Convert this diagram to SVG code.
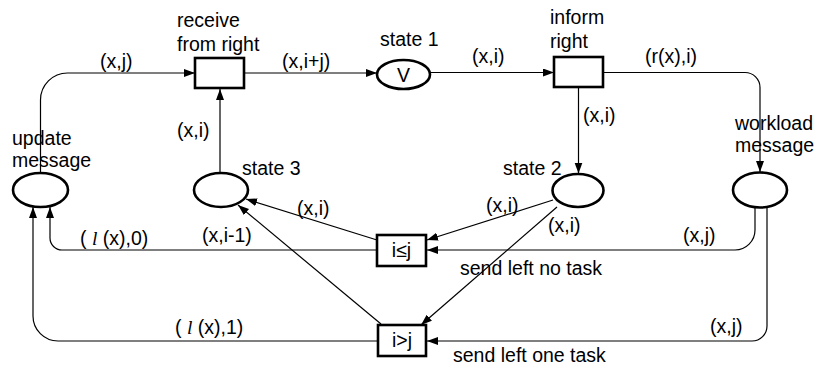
<svg xmlns="http://www.w3.org/2000/svg" width="818" height="369" viewBox="0 0 818 369">
<style>
text{font-family:"Liberation Sans",Arial,sans-serif;font-size:19.5px;fill:#000}
.pl{fill:#fff;stroke:#000;stroke-width:2.6}
.tr{fill:#fff;stroke:#000;stroke-width:2.6}
.c{fill:none;stroke:#000;stroke-width:1.2;marker-end:url(#ah)}
.it{font-family:"Liberation Serif",serif;font-style:italic}
</style>
<defs>
<marker id="ah" markerUnits="userSpaceOnUse" markerWidth="12" markerHeight="9" refX="11" refY="4" orient="auto">
<path d="M0,0 L11,4 L0,8 z" fill="#000"/>
</marker>
</defs>
<rect width="818" height="369" fill="#fff"/>
<g id="connectors">
<path class="c" d="M40.5,173 V100 A27,27 0 0 1 67.5,73 H195"/>
<path class="c" d="M244,73 H377"/>
<path class="c" d="M220,173 V89"/>
<path class="c" d="M430,72.5 H554"/>
<path class="c" d="M603,72.5 H745 A15,15 0 0 1 760,87.5 V172"/>
<path class="c" d="M578.5,87 V173.5"/>
<path class="c" d="M553,200 L427,240"/>
<path class="c" d="M557,207 L421,325"/>
<path class="c" d="M755,207 V230 A20,20 0 0 1 735,250 H427"/>
<path class="c" d="M767,207 V326 A15,15 0 0 1 752,341 H427"/>
<path class="c" d="M377,250 H62 A12,12 0 0 1 50,238 V207"/>
<path class="c" d="M378,341 H58 A25,25 0 0 1 33,316 V207"/>
<path class="c" d="M377,240 L246,199"/>
<path class="c" d="M381,324 L238,205"/>
</g>
<g id="update_message">
<ellipse class="pl" cx="40.5" cy="190" rx="27.5" ry="17"/>
<text x="12" y="145">update</text>
<text x="12" y="167">message</text>
</g>
<g id="receive_from_right">
<rect class="tr" x="195" y="58" width="49" height="30"/>
<text x="177" y="27">receive</text>
<text x="177" y="51">from right</text>
</g>
<g id="state1">
<ellipse class="pl" cx="403.5" cy="74.5" rx="26.5" ry="14.5"/>
<text x="403.5" y="82" text-anchor="middle">V</text>
<text x="380" y="46">state 1</text>
</g>
<g id="inform_right">
<rect class="tr" x="554" y="57" width="49" height="30"/>
<text x="550" y="24">inform</text>
<text x="550" y="48">right</text>
</g>
<g id="state3">
<ellipse class="pl" cx="221" cy="190" rx="27" ry="17"/>
<text x="242" y="175">state 3</text>
</g>
<g id="state2">
<ellipse class="pl" cx="578" cy="190.5" rx="25.5" ry="16.5"/>
<text x="503" y="175">state 2</text>
</g>
<g id="workload_message">
<ellipse class="pl" cx="760" cy="190" rx="27" ry="17.5"/>
<text x="735" y="130">workload</text>
<text x="735" y="152">message</text>
</g>
<g id="send_left_no_task">
<rect class="tr" x="377" y="235" width="49" height="31"/>
<text x="401.5" y="257" text-anchor="middle">i≤j</text>
<text x="460" y="275">send left no task</text>
</g>
<g id="send_left_one_task">
<rect class="tr" x="378" y="325" width="48" height="31"/>
<text x="402" y="347" text-anchor="middle">i&gt;j</text>
<text x="453" y="362">send left one task</text>
</g>
<g id="labels">
<text x="100" y="68">(x,j)</text>
<text x="282" y="68">(x,i+j)</text>
<text x="472" y="63">(x,i)</text>
<text x="645" y="63">(r(x),i)</text>
<text x="177" y="137">(x,i)</text>
<text x="583" y="122">(x,i)</text>
<text x="297" y="215">(x,i)</text>
<text x="486" y="212">(x,i)</text>
<text x="548" y="232">(x,i)</text>
<text x="202" y="242">(x,i-1)</text>
<text x="80" y="245">( <tspan class="it">l</tspan> (x),0)</text>
<text x="683" y="242">(x,j)</text>
<text x="175" y="334">( <tspan class="it">l</tspan> (x),1)</text>
<text x="710" y="333">(x,j)</text>
</g>
</svg>
